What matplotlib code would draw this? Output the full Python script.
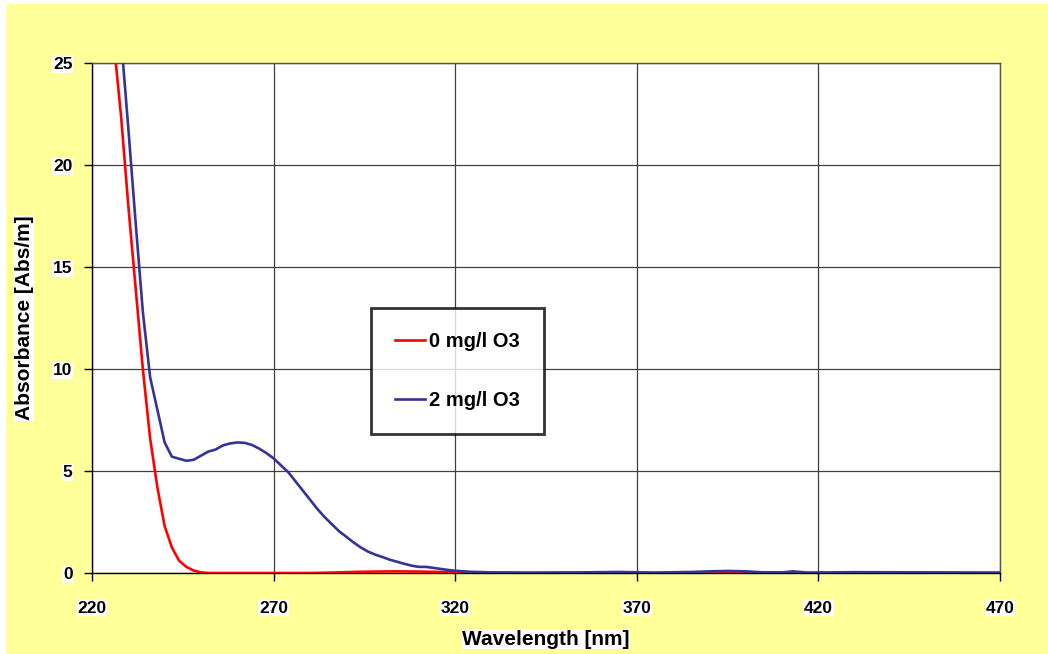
import matplotlib.pyplot as plt
from matplotlib.patches import Rectangle

plt.rcParams['font.family'] = ['Liberation Sans', 'DejaVu Sans']

# --- data ---
wl_0 = [224, 226, 228, 230, 232, 234, 236, 238, 240, 242, 244, 246, 248, 250, 252,
        260, 280, 286, 292, 298, 304, 310, 316, 322, 330, 360, 385, 392, 398, 404, 420, 470]
abs_0 = [30.0, 26.0, 22.4, 18.0, 14.0, 10.0, 6.6, 4.2, 2.3, 1.25, 0.6, 0.3, 0.12, 0.03, 0.0,
         0.0, 0.0, 0.02, 0.05, 0.07, 0.08, 0.07, 0.05, 0.02, 0.0, 0.0, 0.0, 0.04, 0.05, 0.02, 0.0, 0.0]

wl_2 = [226, 228, 230, 232, 234, 236, 238, 240, 242, 244, 246, 248, 250, 252, 254, 256,
        258, 260, 262, 264, 266, 268, 270, 272, 274, 276, 278, 280, 282, 284, 286, 288,
        290, 292, 294, 296, 298, 300, 302, 304, 306, 308, 310, 312, 314, 316, 318, 320,
        324, 330, 340, 355, 365, 375, 385, 390, 395, 400, 405, 410, 413, 417, 430, 450, 470]
abs_2 = [31.0, 26.2, 21.8, 17.2, 12.8, 9.6, 8.0, 6.4, 5.7, 5.6, 5.5, 5.55, 5.75, 5.95, 6.05, 6.25,
         6.35, 6.4, 6.38, 6.28, 6.1, 5.88, 5.62, 5.28, 4.95, 4.5, 4.05, 3.6, 3.15, 2.75, 2.4, 2.05,
         1.78, 1.5, 1.25, 1.05, 0.9, 0.78, 0.65, 0.55, 0.45, 0.36, 0.3, 0.3, 0.25, 0.2, 0.15, 0.11,
         0.06, 0.03, 0.02, 0.03, 0.05, 0.02, 0.05, 0.08, 0.1, 0.08, 0.03, 0.03, 0.08, 0.02, 0.04, 0.03, 0.02]

x_ticks = [220, 270, 320, 370, 420, 470]
y_ticks = [0, 5, 10, 15, 20, 25]

fig = plt.figure(figsize=(10.48, 6.54), dpi=100)
fig.patch.set_facecolor('white')
# yellow chart area (Excel style), slightly inset from the image edge
bg = Rectangle((6 / 1048, 0), 1 - 6 / 1048, 1 - 4 / 654,
               transform=fig.transFigure, facecolor='#FFFF99', edgecolor='none')
bg.set_zorder(-10)
fig.add_artist(bg)

ax = fig.add_axes([92 / 1048, 1 - 573 / 654, 908 / 1048, 510 / 654])
ax.set_facecolor('white')

ax.plot(wl_0, abs_0, color='#FF0000', lw=1.9, label='0 mg/l O3', zorder=3)
ax.plot(wl_2, abs_2, color='#333399', lw=1.9, label='2 mg/l O3', zorder=3)

ax.set_xlim(220, 470)
ax.set_ylim(0, 25)
white_box = dict(facecolor='white', edgecolor='none', pad=0.5)
ax.set_xticks(x_ticks)
ax.set_xticklabels([str(v) for v in x_ticks], fontsize=12.5, fontweight='bold', bbox=white_box)
ax.set_yticks(y_ticks)
ax.set_yticklabels([str(v) for v in y_ticks], fontsize=12.5, fontweight='bold', bbox=white_box)
ax.grid(True, color='#404040', lw=0.9)
ax.set_axisbelow(True)

for s in ['top', 'right']:
    ax.spines[s].set_color('#505050')
    ax.spines[s].set_linewidth(1.0)
for s in ['left', 'bottom']:
    ax.spines[s].set_color('black')
    ax.spines[s].set_linewidth(1.0)

ax.tick_params(axis='y', direction='out', length=6, width=1, color='black', pad=8)
ax.tick_params(axis='x', direction='out', length=6, width=1, color='black', pad=14)

ax.set_xlabel('Wavelength [nm]', fontsize=15, fontweight='bold', labelpad=10, bbox=white_box)
ax.set_ylabel('Absorbance [Abs/m]', fontsize=15, fontweight='bold', labelpad=14, bbox=white_box)

leg = ax.legend(loc='center left', bbox_to_anchor=(279 / 908, (573 - 371) / 510),
                frameon=True, fancybox=False, fontsize=14.5, labelspacing=2.0,
                borderpad=1.2, handlelength=1.5, handletextpad=0.2, borderaxespad=0)
for t in leg.get_texts():
    t.set_fontweight('bold')
leg.get_frame().set_edgecolor('black')
leg.get_frame().set_linewidth(2)
leg.set_zorder(5)

fig.savefig('out.png', dpi=100, facecolor=fig.get_facecolor())
